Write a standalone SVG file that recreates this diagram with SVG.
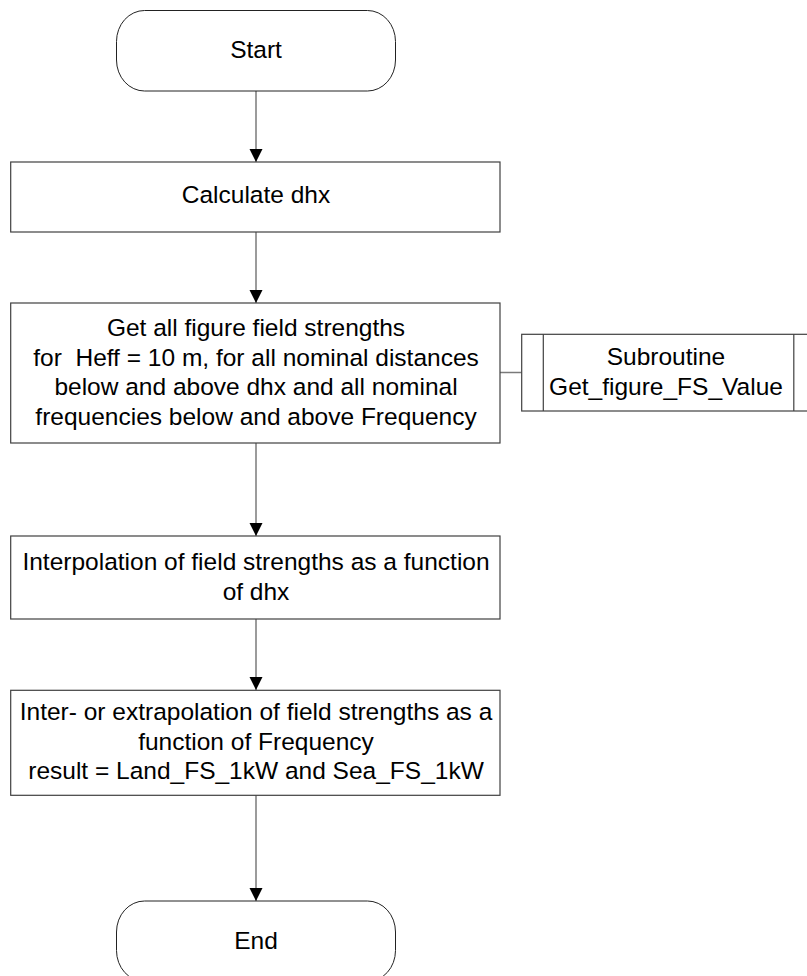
<svg xmlns="http://www.w3.org/2000/svg" width="807" height="976" viewBox="0 0 807 976">
<defs>
<marker id="arr" markerWidth="13" markerHeight="14" refX="13" refY="6.5" orient="auto" markerUnits="userSpaceOnUse">
<path d="M0,0 L13,6.5 L0,13 Z" fill="#000"/>
</marker>
<style>
.box{fill:#fff;stroke:#404040;stroke-width:1.2}
.term{fill:#fff;stroke:#222;stroke-width:1}
.conn{fill:none;stroke:#7a7a7a;stroke-width:1.5}
text{font-family:"Liberation Sans",Arial,sans-serif;font-size:24.5px;fill:#000;text-anchor:middle;white-space:pre}
</style>
</defs>
<rect width="807" height="976" fill="#fff"/>
<g id="connectors">
<line class="conn" x1="256" y1="91" x2="256" y2="162" marker-end="url(#arr)"/>
<line class="conn" x1="256" y1="232" x2="256" y2="303" marker-end="url(#arr)"/>
<line class="conn" x1="256" y1="443" x2="256" y2="536" marker-end="url(#arr)"/>
<line class="conn" x1="256" y1="619" x2="256" y2="690" marker-end="url(#arr)"/>
<line class="conn" x1="256" y1="795" x2="256" y2="901" marker-end="url(#arr)"/>
<line class="conn" x1="500" y1="372.5" x2="521.7" y2="372.5"/>
</g>
<g id="start">
<rect class="term" x="116.5" y="10.5" width="279" height="80.5" rx="28" ry="31"/>
<text x="256" y="58.3">Start</text>
</g>
<g id="calc">
<rect class="box" x="10.7" y="162" width="489.3" height="70"/>
<text x="256" y="203.3">Calculate dhx</text>
</g>
<g id="getall">
<rect class="box" x="10.7" y="303" width="489.3" height="140"/>
<text x="256" y="336">Get all figure field strengths</text>
<text x="256" y="365.5" xml:space="preserve">for  Heff = 10 m, for all nominal distances</text>
<text x="256" y="395">below and above dhx and all nominal</text>
<text x="256" y="424.5">frequencies below and above Frequency</text>
</g>
<g id="subroutine">
<rect class="box" x="521.7" y="334.3" width="290" height="76.7"/>
<line class="box" x1="543.3" y1="334.3" x2="543.3" y2="411"/>
<line class="box" x1="793.8" y1="334.3" x2="793.8" y2="411"/>
<text x="666" y="365">Subroutine</text>
<text x="666" y="395">Get_figure_FS_Value</text>
</g>
<g id="interp">
<rect class="box" x="10.7" y="536" width="489.3" height="83"/>
<text x="256" y="570">Interpolation of field strengths as a function</text>
<text x="256" y="599.5">of dhx</text>
</g>
<g id="extrap">
<rect class="box" x="10.7" y="690.3" width="489.3" height="105"/>
<text x="256" y="720">Inter- or extrapolation of field strengths as a</text>
<text x="256" y="749.7">function of Frequency</text>
<text x="256" y="779.4">result = Land_FS_1kW and Sea_FS_1kW</text>
</g>
<g id="end">
<rect class="term" x="116.5" y="901" width="279" height="80.5" rx="28" ry="31"/>
<text x="256" y="949">End</text>
</g>
</svg>
